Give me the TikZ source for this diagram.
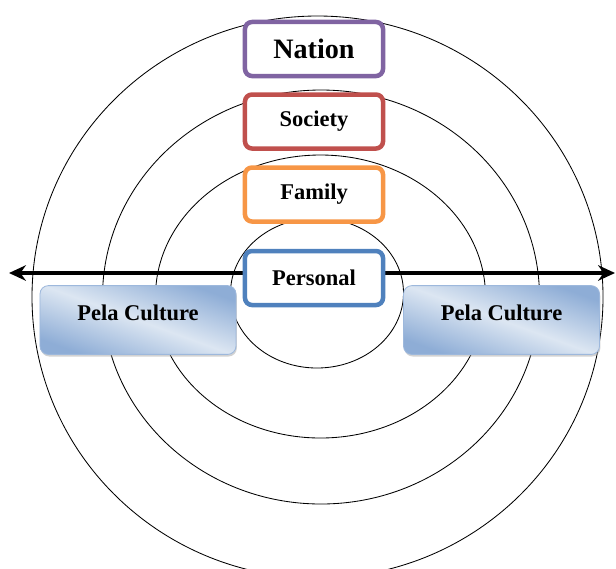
\documentclass[tikz,border=0pt]{standalone}
\usepackage{fontspec}
\setmainfont{Liberation Serif}
\usetikzlibrary{shadows,arrows.meta}

\definecolor{nationcol}{HTML}{8064A2}
\definecolor{societycol}{HTML}{C0504D}
\definecolor{familycol}{HTML}{F79646}
\definecolor{personalcol}{HTML}{4F81BD}
\definecolor{peladark}{HTML}{8EADD6}
\definecolor{pelalight}{HTML}{DCE6F2}
\definecolor{pelaline}{HTML}{9DB8DC}

\tikzset{
  levelbox/.style={draw=#1, line width=3.2pt, rounded corners=5pt, fill=white,
    minimum width=3.45cm, minimum height=1.35cm, inner sep=0pt,
    font=\bfseries\fontsize{16}{18}\selectfont},
  pelabox/.style={draw=pelaline, line width=0.6pt, rounded corners=6pt,
    top color=peladark, bottom color=peladark, middle color=pelalight,
    shading angle=-20, minimum width=4.9cm, minimum height=1.72cm,
    text height=11pt, text depth=11pt,
    drop shadow={shadow xshift=0.6pt, shadow yshift=-1.5pt, fill=black!35},
    font=\bfseries\fontsize{16}{18}\selectfont}
}

\begin{document}
\begin{tikzpicture}[x=0.025cm,y=-0.025cm]
\useasboundingbox (0,0) rectangle (616,568);

% Draw the rings
  \draw[line width=0.6pt] (317.5,297) ellipse (285.5 and 281);
  \draw[line width=0.6pt] (321,297) ellipse (218.5 and 207);
  \draw[line width=0.6pt] (320.5,296.5) ellipse (165 and 141.5);
  \draw[line width=0.6pt] (317,293) ellipse (86.5 and 75);

% Draw the axis
  \coordinate (lefttip) at (9,273);
  \coordinate (righttip) at (615,273);
  \draw[line width=3.3pt, {Stealth[length=12pt,width=11pt]}-{Stealth[length=12pt,width=11pt]}] (lefttip) -- (righttip);

% Draw the levels
  \node[levelbox=nationcol, font=\bfseries\fontsize{20}{24}\selectfont] (nation) at (314,49) {Nation};
  \node[levelbox=societycol] (society) at (314,121.5) {Society};
  \node[levelbox=familycol] (family) at (314,194.5) {Family};
  \node[levelbox=personalcol] (personal) at (314,278) {Personal};

% Draw the culture boxes
  \node[pelabox] (pelaleft) at (138,320) {Pela Culture};
  \node[pelabox] (pelaright) at (501.5,320) {Pela Culture};

\end{tikzpicture}
\end{document}
